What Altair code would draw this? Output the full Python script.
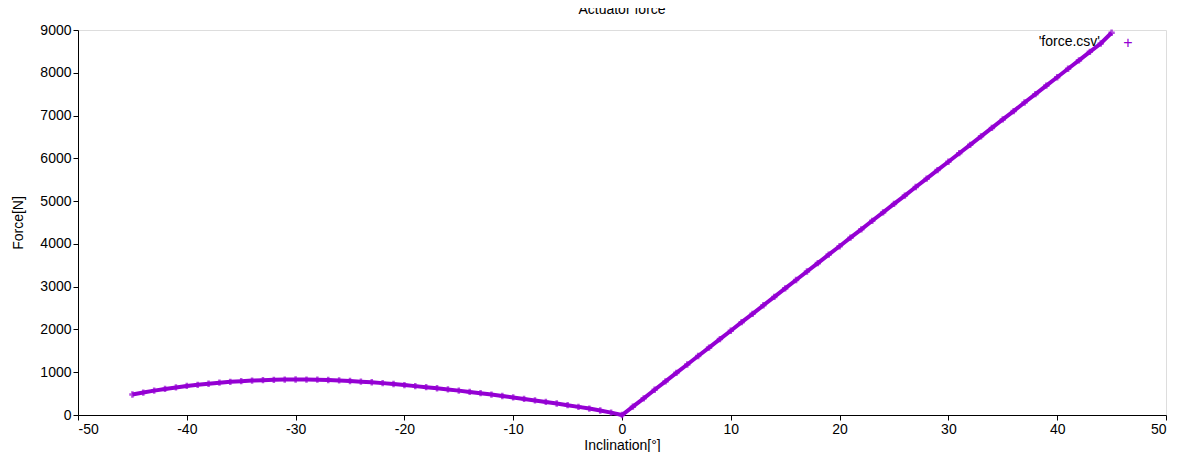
import altair as alt
import pandas as pd

neg_x = list(range(-45, 1))
neg_force = [480, 525, 570, 610, 645, 680, 705, 730, 755, 775, 790, 805, 815, 822, 828,
             830, 828, 825, 818, 808, 795, 780, 765, 745, 725, 700, 675, 650, 625, 598,
             570, 540, 510, 478, 445, 410, 375, 340, 305, 268, 230, 190, 150, 105, 55, 0]
pos_x = list(range(1, 46))
pos_force = [195, 390, 590, 785, 985, 1180, 1380, 1575, 1775, 1970, 2170, 2365, 2565, 2760,
             2960, 3155, 3355, 3550, 3750, 3945, 4145, 4340, 4540, 4735, 4935, 5130, 5330,
             5525, 5725, 5920, 6120, 6315, 6515, 6710, 6910, 7105, 7305, 7500, 7700, 7895,
             8095, 8290, 8490, 8685, 8935]

df = pd.DataFrame({"inclination": neg_x + pos_x, "force": neg_force + pos_force})
purple = "#9400d3"
font = "Liberation Sans"

x = alt.X("inclination:Q", title="Inclination[°]", scale=alt.Scale(domain=[-50, 50], nice=False),
          axis=alt.Axis(values=list(range(-50, 51, 10)), grid=False, tickColor="black",
                        domainColor="black", labelFontSize=14, titleFontSize=14,
                        titleFontWeight="normal", labelColor="black", titleColor="black",
                        labelExpr="'' + datum.value", titlePadding=2))
y = alt.Y("force:Q", title="Force[N]", scale=alt.Scale(domain=[0, 9000], nice=False),
          axis=alt.Axis(values=list(range(0, 9001, 1000)), grid=False, tickColor="black",
                        domainColor="black", labelFontSize=14, titleFontSize=14,
                        titleFontWeight="normal", labelColor="black", titleColor="black",
                        labelExpr="'' + datum.value", titlePadding=14))

base = alt.Chart(df)
line = base.mark_line(color=purple, strokeWidth=4).encode(x=x, y=y)
pts = base.mark_point(shape="cross", color=purple, filled=True, size=40).encode(x=x, y=y)

legend_txt = alt.Chart(pd.DataFrame({"t": ["'force.csv'"]})).mark_text(
    align="right", fontSize=14, font=font, color="black"
).encode(x=alt.value(1022), y=alt.value(12), text="t:N")
legend_pt = alt.Chart(pd.DataFrame({"t": ["'force.csv'"]})).mark_text(
    fontSize=16, font=font, color=purple
).encode(x=alt.value(1050), y=alt.value(13), text=alt.value("+"))

chart = (line + pts + legend_txt + legend_pt).properties(
    width=1088, height=385,
    title=alt.TitleParams("Actuator force", fontSize=14, fontWeight="normal", font=font, offset=6),
    autosize="none",
    padding={"left": 70, "top": 22, "right": 4, "bottom": 37},
).configure_view(stroke="black", strokeWidth=1).configure(font=font)

chart.save("out.html", embed_options={"renderer": "svg", "actions": False})
